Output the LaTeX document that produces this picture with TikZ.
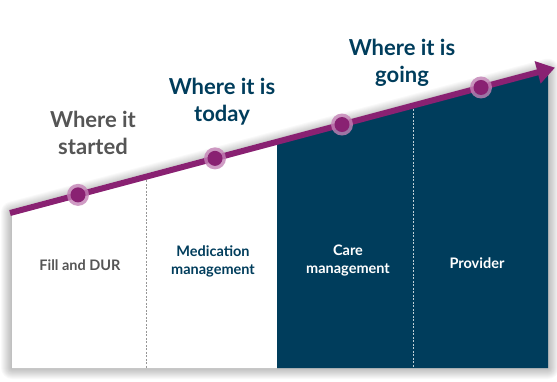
\documentclass[tikz,border=0pt]{standalone}
\usepackage{fontspec}
\setmainfont{Lato}
\usetikzlibrary{arrows.meta}
\definecolor{navy}{RGB}{0,61,92}
\definecolor{plum}{RGB}{137,33,114}
\definecolor{halo}{RGB}{196,130,182}
\definecolor{txtgray}{RGB}{85,85,85}
\definecolor{divgray}{RGB}{150,150,150}
\begin{document}
\begin{tikzpicture}[x=1pt,y=-1pt,
  dot/.style={circle,fill=plum,minimum size=15pt,inner sep=0pt},
  halodot/.style={circle,fill=halo,opacity=0.8,minimum size=22pt,inner sep=0pt},
  head/.style={font=\bfseries\fontsize{22}{27}\selectfont,align=center},
  lab/.style={font=\bfseries\fontsize{14.5}{18}\selectfont,align=center},
  divider/.style={dashed,line width=0.6pt,dash pattern=on 2pt off 1.5pt}]
\useasboundingbox (0,0) rectangle (557,381);
\fill[white] (0,0) rectangle (557,381);
% soft shadow
\foreach \w in {2,4,...,22}
  \draw[black,opacity=0.024,line width=\w pt,line join=round]
    (12,212.5) -- (548,69.6) -- (548,368) -- (12,368) -- cycle;
% panels
\fill[white] (12,212.5) -- (277,141.8) -- (277,368) -- (12,368) -- cycle;
\fill[navy] (277,141.8) -- (548,69.6) -- (548,368) -- (277,368) -- cycle;
% dividers
\coordinate (t1) at (146,176.8); \coordinate (b1) at (146,368);
\coordinate (t2) at (413,105.6); \coordinate (b2) at (413,368);
\draw[divider,divgray] (t1) -- (b1);
\draw[divider,white!75!navy] (t2) -- (b2);
% arrow
\coordinate (s) at (10,213);
\coordinate (e) at (555,67.7);
\draw[plum,line width=6pt,-{Triangle[length=18pt,width=22pt]}] (s) -- (e);
% dots
\foreach \n/\x in {1/78,2/215,3/342,4/481}{
  \pgfmathsetmacro\yy{213-0.2665*(\x-10)}
  \node[halodot] (h\n) at (\x,\yy) {};
  \node[dot] (d\n) at (\x,\yy) {};
}
% headings
\node[head,text=txtgray] (w1) at (93,133) {Where it\\started};
\node[head,text=navy] (w2) at (222,102) {Where it is\\today};
\node[head,text=navy] (w3) at (402,63) {Where it is\\going};
% labels
\node[lab,text=txtgray] (l1) at (80,265) {Fill and DUR};
\node[lab,text=navy] (l2) at (213,261) {Medication\\management};
\node[lab,text=white] (l3) at (348,261) {Care\\management};
\node[lab,text=white] (l4) at (477,263) {Provider};
\end{tikzpicture}
\end{document}
